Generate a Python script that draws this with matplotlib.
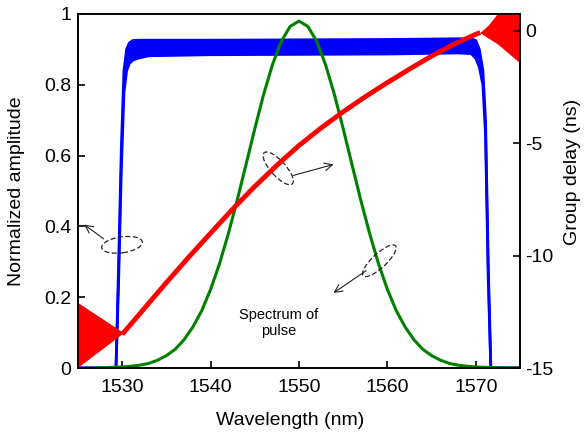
import matplotlib
matplotlib.use("Agg")
import matplotlib.pyplot as plt
from matplotlib.patches import Ellipse
from matplotlib.transforms import ScaledTranslation

plt.rcParams['font.family'] = ['Liberation Sans', 'DejaVu Sans']
plt.rcParams['axes.unicode_minus'] = False

# filter amplitude: the passband ripple is shown as an upper and lower envelope
filterWl = [1525, 1529.3, 1529.6, 1529.9, 1530.2, 1530.5, 1530.8, 1531.2, 1531.8, 1533,
            1540, 1550, 1560, 1568, 1569.5, 1570.0, 1570.4, 1570.8, 1571.1, 1571.4, 1571.7, 1575]
filterTop = [0, 0, 0.30, 0.62, 0.84, 0.90, 0.918, 0.925, 0.926, 0.926,
             0.926, 0.927, 0.928, 0.93, 0.93, 0.925, 0.90, 0.84, 0.70, 0.30, 0, 0]
filterBot = [0, 0, 0.25, 0.56, 0.78, 0.84, 0.86, 0.87, 0.875, 0.882,
             0.885, 0.886, 0.887, 0.89, 0.888, 0.875, 0.85, 0.80, 0.66, 0.26, 0, 0]

# pulse spectrum
pulseWl = list(range(1526, 1576))
pulseAmp = [0.0, 0.0, 0.001, 0.002, 0.003, 0.005, 0.008, 0.013, 0.022, 0.035,
            0.053, 0.080, 0.116, 0.162, 0.222, 0.294, 0.379, 0.473, 0.574, 0.676,
            0.773, 0.857, 0.923, 0.965, 0.980, 0.965, 0.923, 0.857, 0.773, 0.676,
            0.574, 0.473, 0.379, 0.294, 0.222, 0.162, 0.116, 0.080, 0.053, 0.035,
            0.022, 0.013, 0.008, 0.005, 0.003, 0.002, 0.001, 0.0, 0.0, 0.0]

# group delay
delayWl = [1530, 1532.5, 1535, 1537.5, 1540, 1542.5, 1545, 1547.5, 1550, 1552.5,
           1555, 1557.5, 1560, 1562.5, 1565, 1567.5, 1570, 1570.5]
delay = [-13.50, -12.35, -11.20, -10.08, -9.00, -7.93, -6.92, -5.98, -5.10, -4.32,
         -3.60, -2.93, -2.30, -1.70, -1.12, -0.60, -0.15, -0.08]

# noisy delay outside the passband
noiseLeftWl = [1525, 1530.2, 1525]
noiseLeft = [-12.1, -13.45, -15.0]
noiseRightWl = [1575.5, 1572.6, 1571.5, 1570.5, 1572.5, 1575.5]
noiseRight = [2.0, 0.8, 0.25, -0.1, -0.6, -1.6]

xTicks = [1530, 1540, 1550, 1560, 1570]
ampTicks = [0, 0.2, 0.4, 0.6, 0.8, 1]
ampTickLabels = ['0', '0.2', '0.4', '0.6', '0.8', '1']
delayTicks = [0, -5, -10, -15]
delayTickLabels = ['0', '-5', '-10', '-15']

fig = plt.figure(figsize=(5.86, 4.36), dpi=100)
ax = fig.add_axes([78/586, 68/436, 442/586, 354/436])
ax2 = ax.twinx()

ax.fill_between(filterWl, filterBot, filterTop, color='blue', lw=0)
ax.plot(filterWl, filterTop, color='blue', lw=2)
ax.plot(filterWl, filterBot, color='blue', lw=2)
ax.plot(pulseWl, pulseAmp, color='#008000', lw=2.2)

ax2.fill(noiseLeftWl, noiseLeft, color='red', lw=0)
ax2.fill(noiseRightWl, noiseRight, color='red', lw=0)
ax2.plot(delayWl, delay, color='red', lw=3.5, solid_capstyle='butt')

ax.set_xlim(1525, 1575)
ax.set_ylim(0, 1)
ax2.set_ylim(-15, 0.75)

ax.set_xticks(xTicks)
ax.set_yticks(ampTicks)
ax.set_yticklabels(ampTickLabels)
ax2.set_yticks(delayTicks)
ax2.set_yticklabels(delayTickLabels)

ax.tick_params(axis='both', direction='in', length=5, width=1.2, labelsize=14)
ax.tick_params(axis='x', pad=8)
ax.tick_params(axis='y', pad=5)
ax2.tick_params(axis='y', direction='in', length=5, width=1.2, labelsize=14, pad=4)
for a in (ax, ax2):
    for s in a.spines.values():
        s.set_linewidth(1.2)

ax.set_xlabel("Wavelength (nm)", fontsize=14)
ax.set_ylabel("Normalized amplitude", fontsize=14)
ax2.set_ylabel("Group delay (ns)", fontsize=14)
ax.xaxis.set_label_coords(0.479, -0.125)
ax.yaxis.set_label_coords(-0.12, 0.5)
ax2.yaxis.set_label_coords(1.099, 0.554)

# dashed ellipses marking each curve, sized in inches around a data point
def mark(cx, cy, w, h, angle):
    tr = fig.dpi_scale_trans + ScaledTranslation(cx, cy, ax.transData)
    e = Ellipse((0, 0), w, h, angle=angle, transform=tr, fill=False,
                ec='#222222', lw=0.9, ls=(0, (4, 2)))
    ax2.add_artist(e)

arrow = dict(arrowstyle='->', lw=0.8, color='#222222', mutation_scale=14,
             shrinkA=0, shrinkB=0)

mark(1529.98, 0.348, 0.41, 0.16, 8)
ax2.annotate("", xy=(1525.7, 0.405), xytext=(1527.9, 0.365),
             xycoords=ax.transData, textcoords=ax.transData, arrowprops=arrow)

mark(1547.65, 0.564, 0.42, 0.15, -48)
ax2.annotate("", xy=(1553.9, 0.575), xytext=(1549.35, 0.544),
             xycoords=ax.transData, textcoords=ax.transData, arrowprops=arrow)

mark(1559.09, 0.303, 0.44, 0.14, 43)
ax2.annotate("", xy=(1553.9, 0.212), xytext=(1557.6, 0.275),
             xycoords=ax.transData, textcoords=ax.transData, arrowprops=arrow)

ax2.text(1547.65, 0.128, "Spectrum of\npulse", transform=ax.transData,
         ha='center', va='center', fontsize=10.5, linespacing=1.2)

fig.savefig("out.png", dpi=100)
